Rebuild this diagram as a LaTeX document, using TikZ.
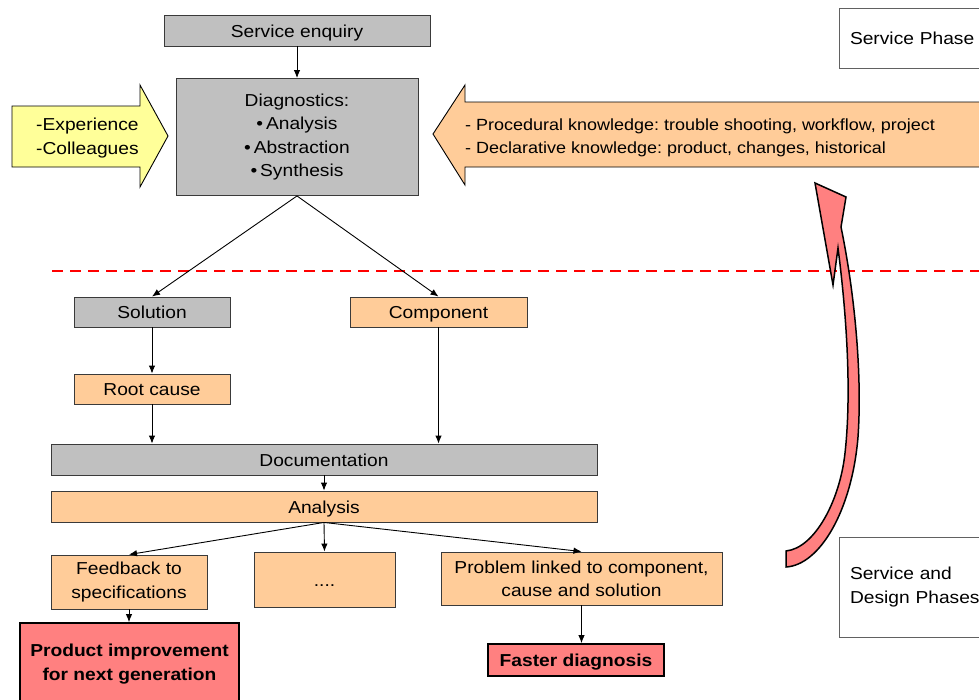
\documentclass[tikz,border=0pt]{standalone}
\usepackage{fontspec}
\setmainfont{Liberation Sans}[FakeStretch=1.11]
\usetikzlibrary{arrows.meta}
\definecolor{boxgray}{HTML}{C0C0C0}
\definecolor{peach}{HTML}{FFCC99}
\definecolor{lemon}{HTML}{FFFF99}
\definecolor{salmon}{HTML}{FF8080}
\definecolor{edge}{HTML}{3A3A3A}
\frenchspacing

\begin{document}
\begin{tikzpicture}[x=1pt,y=-1pt,
  font=\fontsize{17.3}{23.3}\selectfont,
  box/.style={draw=edge, line width=0.9pt, inner sep=0pt, align=center},
  oneline/.style={text height=14pt, text depth=1pt},
  graybox/.style={box, fill=boxgray},
  peachbox/.style={box, fill=peach},
  resultbox/.style={draw=black, line width=1.8pt, fill=salmon, inner sep=0pt,
    align=center, font=\fontsize{17.3}{23.3}\selectfont\bfseries},
  phasebox/.style={draw=edge!80, line width=0.8pt, fill=white, inner ysep=0pt,
    inner xsep=11pt, text width=150pt, align=left},
  arr/.style={-{Latex[length=8pt,width=6.5pt]}, line width=0.9pt},
  bigarrow/.style={draw=black, line width=0.9pt},
]
\clip (0,0) rectangle (979,699);

% ---- phase separator ----
\draw[red, line width=2.6pt, dash pattern=on 11pt off 7pt] (52,271) -- (979,271);

% ---- knowledge inputs ----
\path[bigarrow, fill=lemon] (12,106) -- (140,106) -- (140,85) -- (168,136)
  -- (140,187) -- (140,167) -- (12,167) -- cycle;
\node[anchor=west, align=left, inner sep=0pt] (exp) at (36,138)
  {-Experience\\-Colleagues};

\path[bigarrow, fill=peach] (433,134) -- (465,85) -- (465,102) -- (995,102)
  -- (995,167) -- (465,167) -- (465,185) -- cycle;
\node[anchor=west, align=left, inner sep=0pt,
      font=\fontsize{16.2}{23.3}\selectfont] (know) at (465,138)
  {- Procedural knowledge: trouble shooting, workflow, project\\
   - Declarative knowledge: product, changes, historical};

% ---- main flow ----
\node[graybox, oneline, minimum width=266pt, minimum height=31pt] (enq) at (297,30.5) {Service enquiry};
\node[graybox, minimum width=242pt, minimum height=117pt] (diag) at (297,137)
  {Diagnostics:\\\textbullet\,Analysis\\\textbullet\,Abstraction\\\textbullet\,Synthesis};

\node[graybox, oneline, minimum width=156pt, minimum height=30pt] (sol) at (152,312) {Solution};
\node[peachbox, oneline, minimum width=177pt, minimum height=30pt] (comp) at (438.5,312) {Component};
\node[peachbox, oneline, minimum width=156pt, minimum height=30pt] (root) at (152,389) {Root cause};

\node[graybox, oneline, minimum width=546pt, minimum height=31pt] (doc) at (324,459.5) {Documentation};
\node[peachbox, oneline, minimum width=546pt, minimum height=31pt] (ana) at (324,506.5) {Analysis};

\node[peachbox, minimum width=156pt, minimum height=54pt] (fb) at (129,582)
  {Feedback to\\specifications};
\node[peachbox, oneline, minimum width=141pt, minimum height=55pt] (dots) at (324.5,579.5) {....};
\node[peachbox, minimum width=281pt, minimum height=53pt] (prob) at (581.5,578.5)
  {Problem linked to component,\\cause and solution};

\node[resultbox, minimum width=219pt, minimum height=82pt] (prod) at (129.5,664)
  {Product improvement\\for next generation};
\node[resultbox, oneline, minimum width=176pt, minimum height=32pt] (fast) at (576,660)
  {Faster diagnosis};

% ---- phase labels ----
\node[phasebox, oneline, minimum height=60pt] (sphase) at (925,38) {Service Phase};
\node[phasebox, minimum height=100pt] (sdphase) at (925,587) {Service and\\Design Phases};

% ---- connectors ----
\draw[arr] (enq) -- (diag);
\draw[arr] (diag.south) -- (sol.north);
\draw[arr] (diag.south) -- (comp.north);
\draw[arr] (sol) -- (root);
\draw[arr] (root.south) -- (root.south |- doc.north);
\draw[arr] (comp.south) -- (comp.south |- doc.north);
\draw[arr] (doc) -- (ana);
\draw[arr] (ana.south) -- (fb.north);
\draw[arr] (ana.south) -- (dots.north);
\draw[arr] (ana.south) -- (prob.north);
\draw[arr] (fb.south) -- (fb.south |- prod.north);
\draw[arr] (prob.south) -- (prob.south |- fast.north);

% ---- feedback loop arrow ----
\path[draw=black, line width=1.5pt, line join=miter, fill=salmon]
  (786,567) -- (786,551)
  .. controls (815,548) and (840,500) .. (845,453)
  .. controls (852,390) and (846,310) .. (838,248)
  -- (833,285) -- (815,183) -- (846,197) -- (841,227)
  .. controls (856,300) and (862,380) .. (858,437)
  .. controls (852,510) and (820,565) .. (786,567) -- cycle;
\end{tikzpicture}
\end{document}
